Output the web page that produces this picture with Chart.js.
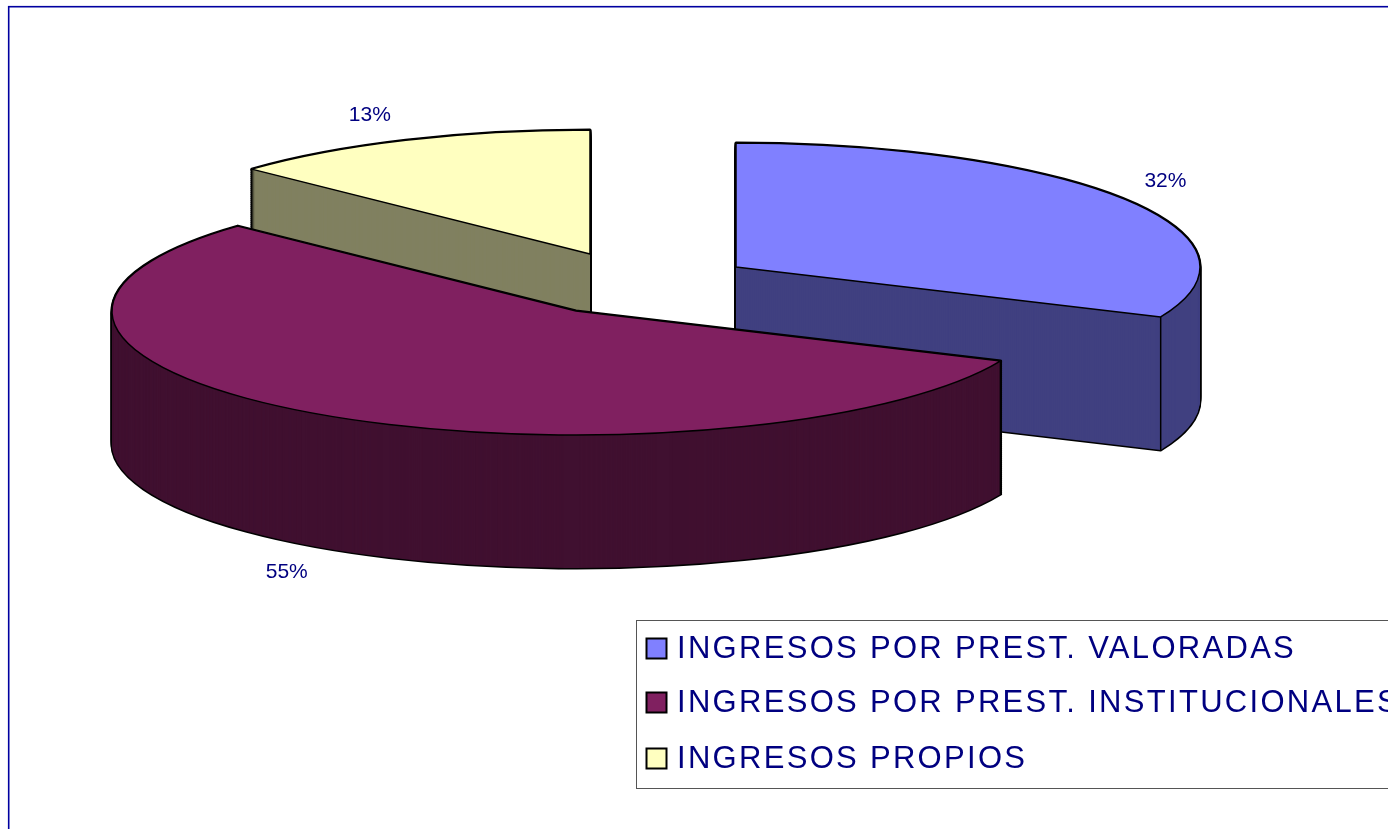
<!DOCTYPE html>
<html>
<head>
<meta charset="utf-8">
<style>html,body{margin:0;padding:0;background:#fff;overflow:hidden}canvas{display:block}</style>
<script src="https://cdn.jsdelivr.net/npm/chart.js@4/dist/chart.umd.js"></script>
</head>
<body>
<canvas id="c" width="1388" height="829"></canvas>
<script>
const categories = ['INGRESOS POR PREST. VALORADAS', 'INGRESOS POR PREST. INSTITUCIONALES', 'INGRESOS PROPIOS'];
const seriesValues = [31.6, 55.4, 13.0];
const topColors = ['#8080FF', '#802060', '#FFFFC0'];
const sideColors = ['#404080', '#401030', '#808060'];

// 3D view settings
const RADIUS = 464, TILT = 124 / 464, DEPTH = 133;
// explosion of each slice (px, relative to the pie centre)
const explodeX = [42, -118, -104];
const explodeY = [-147.5, -103.5, -160.5];
const drawOrder = [2, 0, 1];
// label anchor factors along the slice's mid-angle
const labelFactorX = [1.105, 1.13, 1.195];
const labelFactorY = [1.26, 1.24, 1.22];
const FRAME = '#0000A0', TEXT = '#000080';

const pie3d = {
  id: 'pie3d',
  beforeDraw(chart) {
    const ctx = chart.ctx;
    ctx.save();
    ctx.strokeStyle = FRAME; ctx.lineWidth = 1.6;
    ctx.strokeRect(8.7, 6.7, chart.width + 20, chart.height + 20);
    ctx.restore();
  },
  beforeDatasetDraw(chart) {
    const ctx = chart.ctx, meta = chart.getDatasetMeta(0);
    const place = (el, i, d) => {
      ctx.translate(el.x + explodeX[i], el.y + explodeY[i] + d);
      ctx.scale(1, TILT);
      ctx.translate(-el.x, -el.y);
    };
    const tracePath = (el, i, d) => {
      ctx.save();
      place(el, i, d);
      ctx.beginPath();
      ctx.moveTo(el.x, el.y);
      ctx.arc(el.x, el.y, el.outerRadius, el.startAngle, el.endAngle);
      ctx.closePath();
      ctx.restore();
    };
    const paint = (el, i, d, color) => {
      const saved = el.options;
      el.options = Object.assign({}, saved, { backgroundColor: color, borderWidth: 0, offset: 0 });
      ctx.save();
      place(el, i, d);
      el.draw(ctx);
      ctx.restore();
      el.options = saved;
    };
    ctx.save();
    ctx.lineJoin = 'round';
    drawOrder.forEach(i => {
      const el = meta.data[i];
      // silhouette of the extruded body
      ctx.strokeStyle = '#000'; ctx.lineWidth = 3;
      for (let d = DEPTH; d > 0; d -= 2) { tracePath(el, i, d); ctx.stroke(); }
      tracePath(el, i, 0); ctx.stroke();
      for (let d = DEPTH; d > 0; d--) paint(el, i, d, sideColors[i]);
      // vertical edges at the front corners
      ctx.lineWidth = 1.5;
      [el.startAngle, el.endAngle].forEach(a => {
        if (Math.sin(a) > 0) {
          const x = el.x + explodeX[i] + Math.cos(a) * el.outerRadius;
          const y = el.y + explodeY[i] + Math.sin(a) * el.outerRadius * TILT;
          ctx.beginPath(); ctx.moveTo(x, y); ctx.lineTo(x, y + DEPTH); ctx.stroke();
        }
      });
      paint(el, i, 0, topColors[i]);
      tracePath(el, i, 0);
      ctx.lineWidth = 1.5; ctx.stroke();
    });
    ctx.restore();
    return false;
  },
  afterDatasetsDraw(chart) {
    const ctx = chart.ctx, meta = chart.getDatasetMeta(0);
    const total = seriesValues.reduce((a, b) => a + b, 0);
    ctx.save();
    ctx.font = '21px "Liberation Sans", Arial, sans-serif';
    ctx.fillStyle = TEXT; ctx.textAlign = 'center'; ctx.textBaseline = 'middle';
    meta.data.forEach((el, i) => {
      const mid = (el.startAngle + el.endAngle) / 2;
      const dy = Math.sin(mid);
      const x = el.x + explodeX[i] + Math.cos(mid) * el.outerRadius * labelFactorX[i];
      const y = el.y + explodeY[i] + dy * el.outerRadius * TILT * labelFactorY[i] + (dy > 0 ? DEPTH : 0);
      ctx.fillText(Math.round(seriesValues[i] / total * 100) + '%', x, y);
    });
    // legend
    const items = chart.options.plugins.legend.labels.generateLabels(chart);
    const rows = [658, 712, 768];
    ctx.strokeStyle = '#555'; ctx.lineWidth = 1;
    ctx.strokeRect(636.5, 620.5, chart.width, 168);
    ctx.font = '31px "Liberation Sans", Arial, sans-serif';
    ctx.textAlign = 'left'; ctx.textBaseline = 'alphabetic';
    if ('letterSpacing' in ctx) ctx.letterSpacing = '2.3px';
    items.forEach((it, i) => {
      ctx.fillStyle = topColors[i]; ctx.strokeStyle = '#000'; ctx.lineWidth = 2;
      ctx.fillRect(646.5, rows[i] - 19.5, 20, 20);
      ctx.strokeRect(646.5, rows[i] - 19.5, 20, 20);
      ctx.fillStyle = TEXT;
      ctx.fillText(it.text, 677, rows[i]);
    });
    ctx.restore();
  }
};

new Chart(document.getElementById('c'), {
  type: 'pie',
  data: { labels: categories, datasets: [{ data: seriesValues, backgroundColor: topColors, borderWidth: 0, radius: RADIUS }] },
  options: {
    responsive: false, animation: false,
    layout: { padding: 0 },
    plugins: { legend: { display: false }, tooltip: { enabled: false } }
  },
  plugins: [pie3d]
});
</script>
</body>
</html>
